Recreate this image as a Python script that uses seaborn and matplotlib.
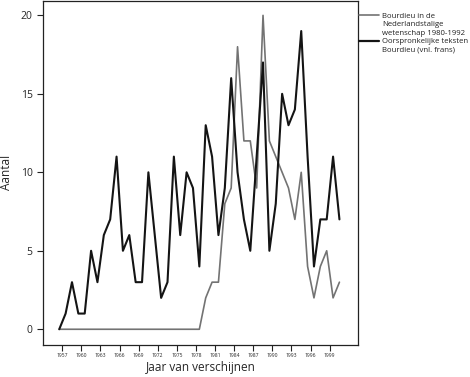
import matplotlib.pyplot as plt
import seaborn as sns
import pandas as pd
from matplotlib.lines import Line2D

# publicaties per jaar
years = list(range(1957, 2002))
nl_wetenschap = [0, 0, 0, 0, 0, 0, 0, 0, 0, 0,
                 0, 0, 0, 0, 0, 0, 0, 0, 0, 0,
                 0, 0, 0, 2, 3, 3, 8, 9, 18, 12,
                 12, 9, 20, 12, 11, 10, 9, 7, 10, 4,
                 2, 4, 5, 2, 3]
oorspronkelijk = [0, 1, 3, 1, 1, 5, 3, 6, 7, 11,
                  5, 6, 3, 3, 10, 6, 2, 3, 11, 6,
                  10, 9, 4, 13, 11, 6, 9, 16, 10, 7,
                  5, 11, 17, 5, 8, 15, 13, 14, 19, 11,
                  4, 7, 7, 11, 7]
tick_years = list(range(1957, 2000, 3))
y_ticks = [0, 5, 10, 15, 20]

label_nl = "Bourdieu in de\nNederlandstalige\nwetenschap 1980-1992"
label_fr = "Oorspronkelijke teksten\nBourdieu (vnl. frans)"
gray = "#737373"
black = "#141414"

df_nl = pd.DataFrame({"jaar": years, "aantal": nl_wetenschap})
df_fr = pd.DataFrame({"jaar": years, "aantal": oorspronkelijk})

sns.set_style("ticks")
plt.rcParams['font.family'] = ['Open Sans', 'DejaVu Sans']

fig = plt.figure(figsize=(4.7, 3.77), dpi=100)
ax = fig.add_axes([0.0915, 0.085, 0.670, 0.913])

sns.lineplot(data=df_nl, x="jaar", y="aantal", color=gray, linewidth=1.2, ax=ax)
sns.lineplot(data=df_fr, x="jaar", y="aantal", color=black, linewidth=1.5, ax=ax)

ax.set_xlim(1954.45, 2003.9)
ax.set_ylim(-1.0, 20.93)
ax.set_xticks([y + 0.47 for y in tick_years])
ax.set_xticklabels([str(y) for y in tick_years])
ax.set_yticks(y_ticks)
ax.tick_params(axis="x", length=4, width=0.8, labelsize=3.6, pad=2, color="#222222")
ax.tick_params(axis="y", length=4.5, width=0.8, labelsize=7.5, pad=3, color="#222222")
for sp in ax.spines.values():
    sp.set_linewidth(0.9)
    sp.set_color("#222222")

ax.set_xlabel("Jaar van verschijnen", fontsize=8.5)
ax.set_ylabel("Aantal", fontsize=8.5)
ax.xaxis.set_label_coords(0.5, -0.046)
ax.yaxis.set_label_coords(-0.094, 0.5)

# legenda rechts naast de grafiek
def fig_y(py):
    return 1 - py / 377

def fig_x(px):
    return px / 470

entries = [(label_nl, gray, 1.2, 15), (label_fr, black, 1.6, 40.7)]
for label, color, lw, top in entries:
    fig.add_artist(Line2D([fig_x(359), fig_x(379)], [fig_y(top), fig_y(top)],
                          color=color, linewidth=lw, transform=fig.transFigure))
    for k, line in enumerate(label.split("\n")):
        fig.text(fig_x(382), fig_y(top + k * 8.6), line, fontsize=5.6,
                 va="center_baseline", ha="left", color="#222222")

fig.savefig("out.png", dpi=100)
